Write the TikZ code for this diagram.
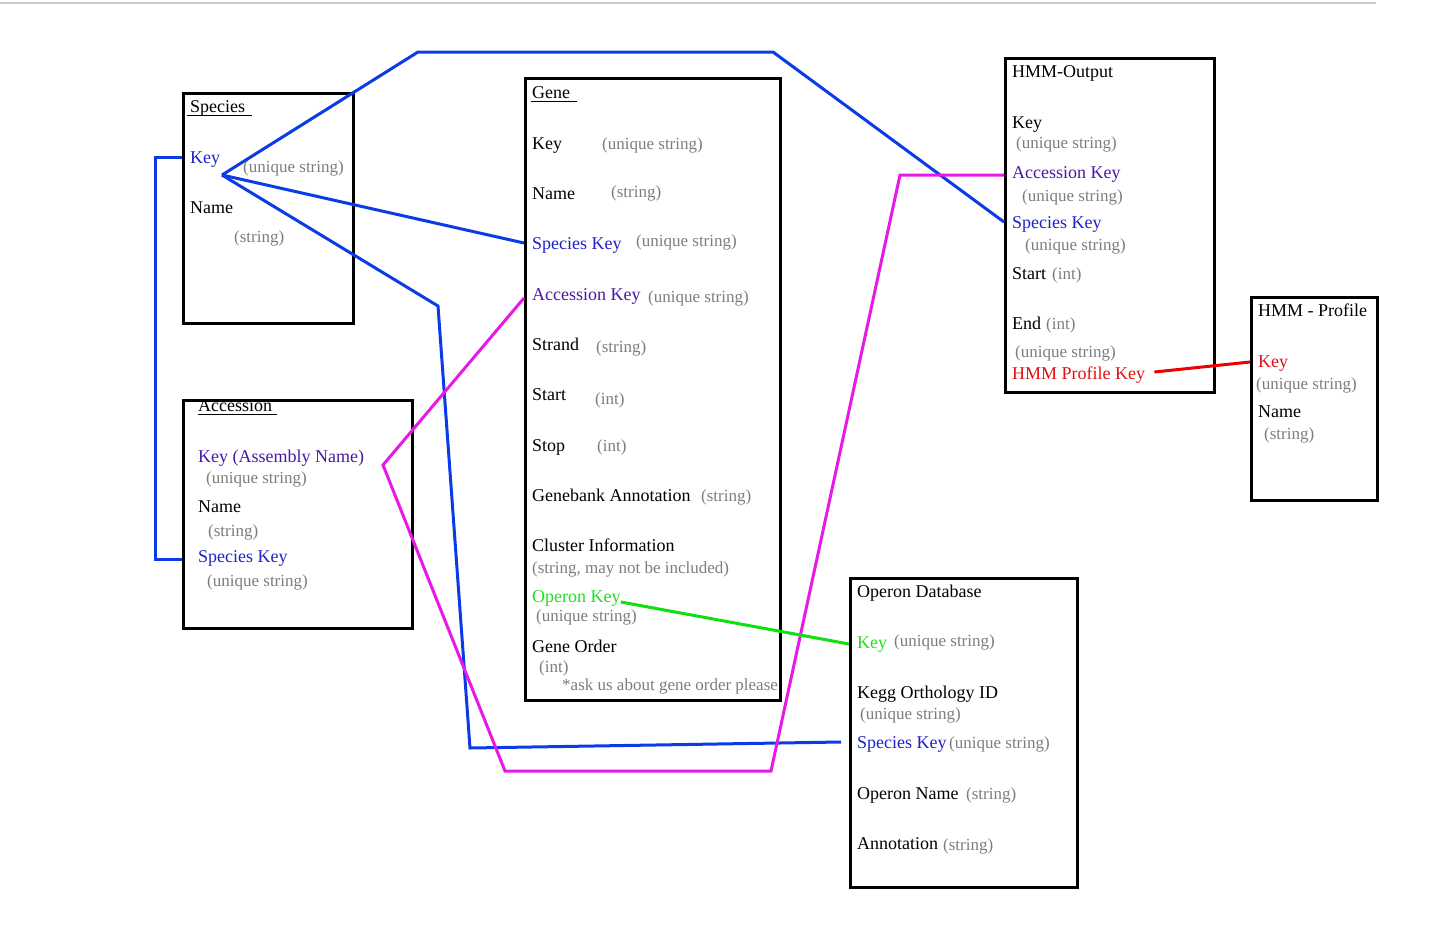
\documentclass[tikz,border=0pt]{standalone}
\usepackage{fontspec}
\setmainfont{Liberation Serif}
\definecolor{txblue}{RGB}{32,32,200}
\definecolor{txpurple}{RGB}{72,24,168}
\definecolor{txgreen}{RGB}{34,221,34}
\definecolor{txred}{RGB}{224,16,16}
\definecolor{txgray}{RGB}{125,125,125}
\definecolor{lnblue}{RGB}{11,59,230}
\definecolor{lnmag}{RGB}{230,25,230}
\definecolor{lngreen}{RGB}{16,224,16}
\definecolor{lnred}{RGB}{238,0,0}
\begin{document}
\begin{tikzpicture}[x=1pt,y=-1pt,
  lbl/.style={anchor=base west,inner sep=0pt,font=\fontsize{18}{20}\selectfont},
  typ/.style={anchor=base west,inner sep=0pt,text=txgray,font=\fontsize{17}{19}\selectfont},
  tbl/.style={draw=black,line width=3pt,anchor=north west,inner sep=0pt},
  conn/.style={line width=3pt,line join=miter},
  uline/.style={draw=black,line width=0.8pt}]
\useasboundingbox (0,0) rectangle (1441,932);
\draw[black!20,line width=2pt] (0,3) -- (1376,3);

% ---------- Species ----------
\node[lbl] (sptitle) at (190,112) {Species};
\draw[uline] (187,115) -- (252,115);
\node[lbl,text=txblue] (skey) at (190,163) {Key};
\node[typ] (sktype) at (243,172) {(unique string)};
\node[lbl] (sname) at (190,213) {Name};
\node[typ] (sntype) at (234,242) {(string)};

% ---------- Accession ----------
\node[lbl] (actitle) at (198,411) {Accession};
\draw[uline] (198,414) -- (277,414);
\node[lbl,text=txpurple] (akey) at (198,462) {Key (Assembly Name)};
\node[typ] (aktype) at (206,483) {(unique string)};
\node[lbl] (aname) at (198,512) {Name};
\node[typ] (antype) at (208,536) {(string)};
\node[lbl,text=txblue] (askey) at (198,562) {Species Key};
\node[typ] (asktype) at (207,586) {(unique string)};

% ---------- Gene ----------
\node[lbl] (gtitle) at (532,98) {Gene};
\draw[uline] (531,101) -- (577,101);
\node[lbl] (gkey) at (532,149) {Key};
\node[typ] at (602,149) {(unique string)};
\node[lbl] (gname) at (532,199) {Name};
\node[typ] at (611,197) {(string)};
\node[lbl,text=txblue] (gspk) at (532,249) {Species Key};
\node[typ] at (636,246) {(unique string)};
\node[lbl,text=txpurple] (gak) at (532,300) {Accession Key};
\node[typ] at (648,302) {(unique string)};
\node[lbl] (gstrand) at (532,350) {Strand};
\node[typ] at (596,352) {(string)};
\node[lbl] (gstart) at (532,400) {Start};
\node[typ] at (595,404) {(int)};
\node[lbl] (gstop) at (532,451) {Stop};
\node[typ] at (597,451) {(int)};
\node[lbl] (gann) at (532,501) {Genebank Annotation};
\node[typ] at (701,501) {(string)};
\node[lbl] (gclus) at (532,551) {Cluster Information};
\node[typ] at (532,573) {(string, may not be included)};
\node[lbl,text=txgreen] (gok) at (532,602) {Operon Key};
\node[typ] at (536,621) {(unique string)};
\node[lbl] (gorder) at (532,652) {Gene Order};
\node[typ] at (539,672) {(int)};
\node[typ] at (562,690) {*ask us about gene order please};

% ---------- HMM-Output ----------
\node[lbl] (htitle) at (1012,77) {HMM-Output};
\node[lbl] (hkey) at (1012,128) {Key};
\node[typ] at (1016,148) {(unique string)};
\node[lbl,text=txpurple] (hak) at (1012,178) {Accession Key};
\node[typ] at (1022,201) {(unique string)};
\node[lbl,text=txblue] (hsk) at (1012,228) {Species Key};
\node[typ] at (1025,250) {(unique string)};
\node[lbl] (hstart) at (1012,279) {Start};
\node[typ] at (1052,279) {(int)};
\node[lbl] (hend) at (1012,329) {End};
\node[typ] at (1046,329) {(int)};
\node[typ] at (1015,357) {(unique string)};
\node[lbl,text=txred] (hpk) at (1012,379) {HMM Profile Key};

% ---------- HMM - Profile ----------
\node[lbl] (ptitle) at (1258,316) {HMM - Profile};
\node[lbl,text=txred] (pkey) at (1258,367) {Key};
\node[typ] at (1256,389) {(unique string)};
\node[lbl] (pname) at (1258,417) {Name};
\node[typ] at (1264,439) {(string)};

% ---------- Operon Database ----------
\node[lbl] (otitle) at (857,597) {Operon Database};
\node[lbl,text=txgreen] (okey) at (857,648) {Key};
\node[typ] at (894,646) {(unique string)};
\node[lbl] (okegg) at (857,698) {Kegg Orthology ID};
\node[typ] at (860,719) {(unique string)};
\node[lbl,text=txblue] (osk) at (857,748) {Species Key};
\node[typ] at (949,748) {(unique string)};
\node[lbl] (oname) at (857,799) {Operon Name};
\node[typ] at (966,799) {(string)};
\node[lbl] (oann) at (857,849) {Annotation};
\node[typ] at (943,850) {(string)};

% ---------- Boxes ----------
\node[tbl,minimum width=170pt,minimum height=230pt] (species) at (182,92) {};
\node[tbl,minimum width=229pt,minimum height=228pt] (acc) at (182,399) {};
\node[tbl,minimum width=255pt,minimum height=622pt] (gene) at (524,77) {};
\node[tbl,minimum width=209pt,minimum height=334pt] (hmmo) at (1004,57) {};
\node[tbl,minimum width=126pt,minimum height=203pt] (hmmp) at (1250,296) {};
\node[tbl,minimum width=227pt,minimum height=309pt] (opdb) at (849,577) {};

% ---------- Connectors ----------
\coordinate (hub) at (222,175);
\coordinate (b1) at (418,52);
\coordinate (b2) at (773,52);
\coordinate (b3) at (438,306);
\coordinate (b4) at (470,748);
\coordinate (sl) at (155,157);
\coordinate (m1) at (383,465);
\coordinate (m2) at (505,771);
\coordinate (m3) at (771,771);
\coordinate (m4) at (900,175);

\draw[conn,lnblue] (species.west |- sl) -- (sl) |- (acc.west |- 0,559);
\draw[conn,lnblue] (hub) -- (b1) -- (b2) -- (hmmo.west |- 0,222);
\draw[conn,lnblue] (hub) -- (gene.west |- 0,243);
\draw[conn,lnblue] (hub) -- (b3) -- (b4) -- ([xshift=-8pt]opdb.west |- 0,742);
\draw[conn,lnmag] (gene.west |- 0,298) -- (m1) -- (m2) -- (m3) -- (m4) -- (hmmo.west |- 0,175);
\draw[conn,lngreen] (gok.base east) -- (opdb.west |- 0,644);
\draw[conn,lnred] ([xshift=9pt]hpk.base east) ++(0,-7) -- (hmmp.west |- 0,362);
\end{tikzpicture}
\end{document}
